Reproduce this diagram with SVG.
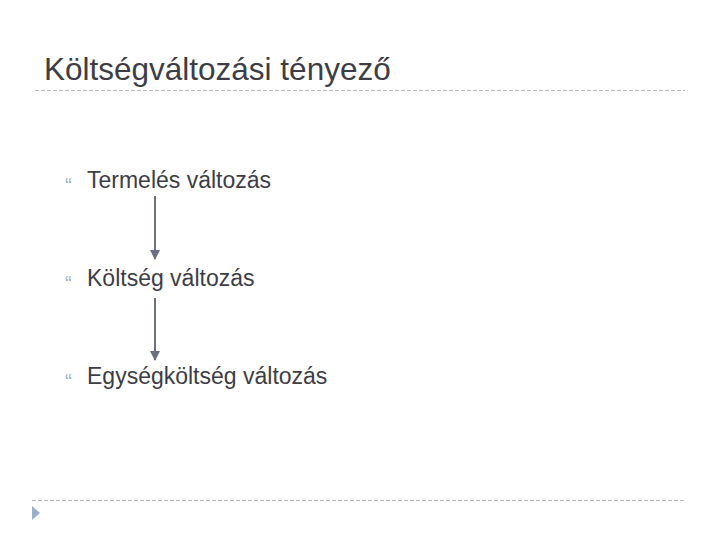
<svg xmlns="http://www.w3.org/2000/svg" width="720" height="540" viewBox="0 0 720 540">
<style>
.t{font-family:"Liberation Sans",Arial,sans-serif;fill:#3d3d45}
.b{font-family:"Liberation Sans",Arial,sans-serif;fill:#9ab0c8;font-size:20px}
.dash{stroke:#b8b8b8;stroke-width:1;stroke-dasharray:4,2}
.arr{stroke:#6a7080;stroke-width:2;fill:none;marker-end:url(#ah)}
</style>
<defs>
<marker id="ah" viewBox="0 0 10 10" refX="9" refY="5" markerWidth="5" markerHeight="5" orient="auto" markerUnits="strokeWidth"><path d="M0,0 L10,5 L0,10 z" fill="#6a7080"/></marker>
</defs>
<rect width="720" height="540" fill="#fff"/>
<text class="t" x="44" y="80" font-size="31.5">Költségváltozási tényező</text>
<line class="dash" x1="35" y1="90.5" x2="685" y2="90.5"/>
<line class="dash" x1="32" y1="500.5" x2="686" y2="500.5"/>
<polygon points="32,506 40,513 32,520" fill="#9ab0c8"/>
<g id="n1"><text class="b" x="65" y="192">“</text><text class="t" x="87" y="188" font-size="23">Termelés változás</text></g>
<g id="n2"><text class="b" x="65" y="290">“</text><text class="t" x="87" y="286" font-size="23">Költség változás</text></g>
<g id="n3"><text class="b" x="65" y="388">“</text><text class="t" x="87" y="384" font-size="23">Egységköltség változás</text></g>
<g id="connectors">
<line class="arr" x1="155" y1="196" x2="155" y2="259"/>
<line class="arr" x1="155" y1="298" x2="155" y2="360"/>
</g>
</svg>
